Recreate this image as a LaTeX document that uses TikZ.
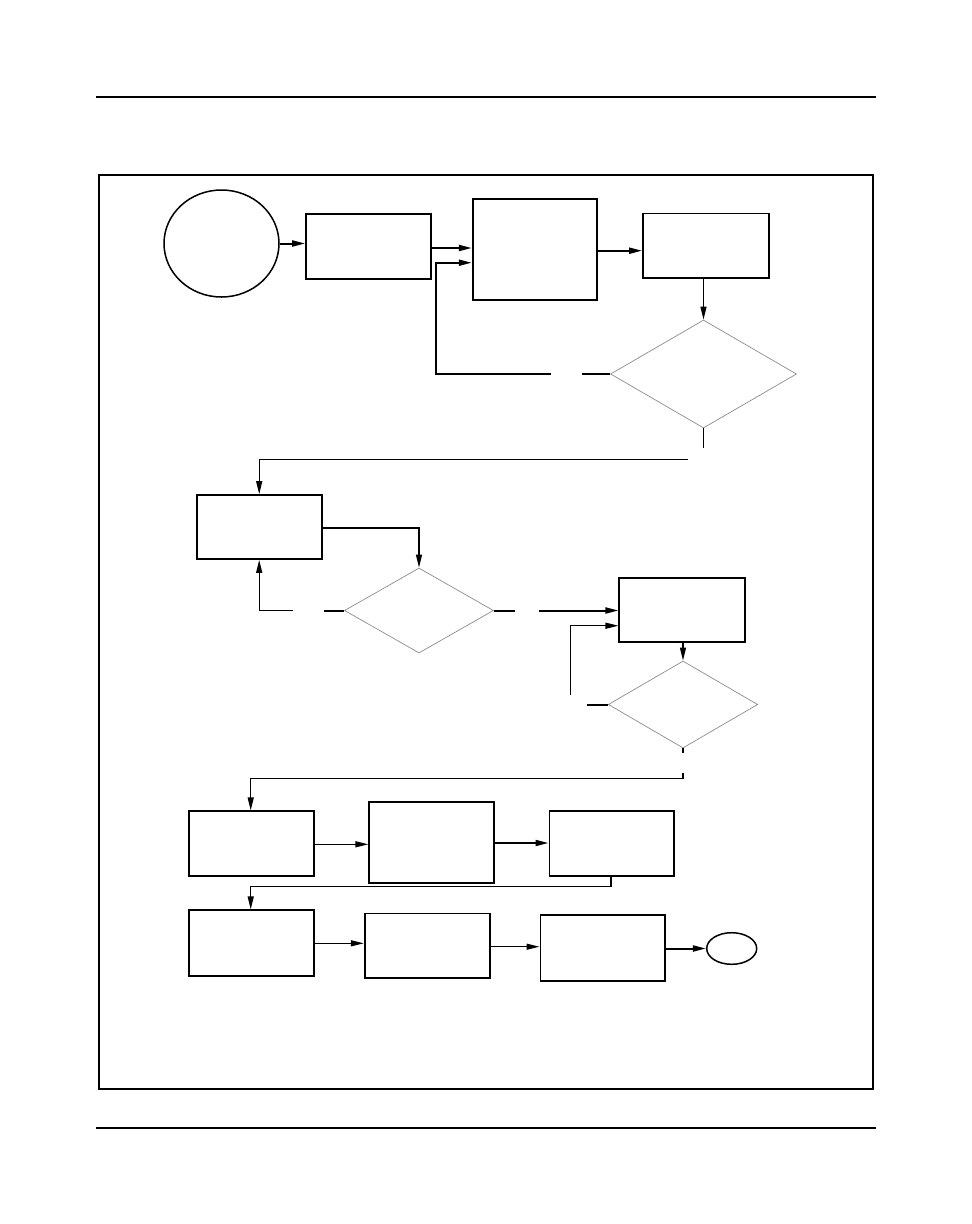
\documentclass[tikz,border=0pt]{standalone}
\usetikzlibrary{shapes.geometric,arrows.meta}
\begin{document}
\begin{tikzpicture}[x=1pt,y=-1pt,
  boxnode/.style={draw,line width=1.7pt,rectangle,inner sep=0pt},
  ovalnode/.style={draw,line width=1.5pt,ellipse,inner sep=0pt},
  decnode/.style={draw=black!45,line width=0.7pt,diamond,inner sep=0pt},
  thk/.style={line width=2pt},
  thn/.style={line width=1.3pt},
  tip/.style={-{Triangle[length=13pt,width=6pt]}}
]
\fill[white] (0,0) rectangle (972,1224);
\useasboundingbox (0,0) rectangle (972,1224);
% page rules and frame
\coordinate (hl) at (96,97); \coordinate (hr) at (876,97);
\coordinate (fl) at (96,1128); \coordinate (fr) at (876,1128);
\draw[line width=1.2pt] (hl) -- (hr);
\draw[line width=1.2pt] (fl) -- (fr);
\coordinate (frA) at (99,175); \coordinate (frB) at (873,1089);
\draw[line width=2.4pt] (frA) rectangle (frB);
% nodes
\node[ovalnode,minimum width=115pt,minimum height=107pt] (start) at (221.5,243.5) {};
\node[boxnode,minimum width=125pt,minimum height=65pt] (b1) at (368.5,246.5) {};
\node[boxnode,minimum width=124.3pt,minimum height=101pt] (b2) at (534.8,249.5) {};
\node[boxnode,minimum width=125.7pt,minimum height=64.7pt] (b3) at (705.8,245.7) {};
\node[decnode,minimum width=186pt,minimum height=108pt] (d1) at (703.5,374) {};
\node[boxnode,minimum width=125pt,minimum height=64pt] (b4) at (259.2,527) {};
\node[decnode,minimum width=149pt,minimum height=85pt] (d2) at (419,610.5) {};
\node[boxnode,minimum width=125.4pt,minimum height=64.3pt] (b5) at (682,609.8) {};
\node[decnode,minimum width=149.4pt,minimum height=87pt] (d3) at (683,704.5) {};
\node[boxnode,minimum width=125pt,minimum height=64.4pt] (b6) at (251.8,843.5) {};
\node[boxnode,minimum width=125pt,minimum height=81pt] (b7) at (431.8,842.8) {};
\node[boxnode,minimum width=124.7pt,minimum height=64.4pt] (b8) at (611.7,843.5) {};
\node[boxnode,minimum width=125pt,minimum height=66pt] (b9) at (251.8,943.3) {};
\node[boxnode,minimum width=125pt,minimum height=64.7pt] (b10) at (427.2,945.7) {};
\node[boxnode,minimum width=124.7pt,minimum height=66.3pt] (b11) at (602.7,947.8) {};
\node[ovalnode,minimum width=50pt,minimum height=31.6pt] (stop) at (731.7,948.5) {};
% free-end coordinates
\coordinate (f1a) at (582,374); \coordinate (f1b) at (550.7,374);
\coordinate (f1c) at (435.7,374);
\coordinate (f2a) at (703.5,448); \coordinate (f2b) at (688,459.3);
\coordinate (f3a) at (324,610.5); \coordinate (f3b) at (292.7,610.5);
\coordinate (f4a) at (515,610.5); \coordinate (f4b) at (539,610.5);
\coordinate (f5a) at (570.3,694.7);
\coordinate (f6a) at (587.3,704.5);
\coordinate (f7a) at (683,752.7); \coordinate (f7b) at (683,773);
% connectors
\draw[thk,tip] (start.east) -- (b1.west |- start.east);
\draw[thk,tip] (b1.east |- 0,248) -- (b2.west |- 0,248);
\draw[thk] (d1.west) -- (f1a);
\draw[thk,tip] (f1b) -- (f1c) -- (435.7,262.7) -- (b2.west |- 0,262.7);
\draw[thk,tip] (b2.east |- 0,250.7) -- (b3.west |- 0,250.7);
\draw[thn,tip] (d1.north |- b3.south) -- (d1.north);
\draw[thn] (d1.south) -- (f2a);
\draw[thn,tip] (f2b) -- (f2b -| b4.north) -- (b4.north);
\draw[thn,tip] (b4.east |- 0,528) -- (d2.north |- 0,528) -- (d2.north);
\draw[thk] (d2.west) -- (f3a);
\draw[thn,tip] (f3b) -- (b4.south |- f3b) -- (b4.south);
\draw[thk] (d2.east) -- (f4a);
\draw[thk,tip] (f4b) -- (b5.west |- f4b);
\draw[thn,tip] (f5a) -- (570.3,625.7) -- (b5.west |- 0,625.7);
\draw[thn,tip] (d3.north |- b5.south) -- (d3.north);
\draw[thk] (f6a) -- (d3.west);
\draw[thk] (d3.south) -- (f7a);
\draw[thn,tip] (f7b) -- (683,778.3) -- (250.7,778.3) -- (b6.north -| 250.7,0);
\draw[thn,tip] (b6.east |- 0,844.3) -- (b7.west |- 0,844.3);
\draw[thk,tip] (b7.east |- 0,843) -- (b8.west |- 0,843);
\draw[thn,tip] (b8.south -| 611,0) -- (611,886.3) -- (250.7,886.3) -- (b9.north -| 250.7,0);
\draw[thn,tip] (b9.east |- 0,943.3) -- (b10.west |- 0,943.3);
\draw[thn,tip] (b10.east |- 0,946.7) -- (b11.west |- 0,946.7);
\draw[thk,tip] (b11.east |- stop.west) -- (stop.west);
\end{tikzpicture}
\end{document}
